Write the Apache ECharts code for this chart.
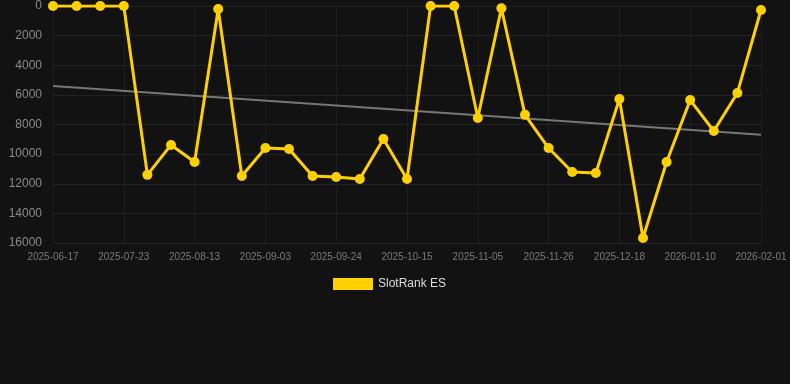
<!DOCTYPE html>
<html><head><meta charset="utf-8">
<script src="https://cdn.jsdelivr.net/npm/echarts@6/dist/echarts.min.js"></script>
<style>html,body{margin:0;padding:0;background:#121212;}#c{width:790px;height:384px;}</style>
</head><body><div id="c"></div>
<script>
const categories = ['2025-06-17','2025-07-02','2025-07-09','2025-07-23','2025-07-30','2025-08-06','2025-08-13','2025-08-20','2025-08-27','2025-09-03','2025-09-10','2025-09-17','2025-09-24','2025-10-01','2025-10-08','2025-10-15','2025-10-22','2025-10-29','2025-11-05','2025-11-12','2025-11-19','2025-11-26','2025-12-03','2025-12-10','2025-12-18','2025-12-25','2026-01-03','2026-01-10','2026-01-17','2026-01-24','2026-02-01'];
const rankValues = [0,0,0,0,11400,9380,10530,200,11480,9590,9650,11480,11550,11680,8980,11680,0,0,7560,150,7350,9590,11210,11280,6280,15660,10530,6350,8440,5870,270];
const trendStart = 5400;
const trendEnd = 8700;
const trendValues = categories.map((c,i)=> i===0 ? trendStart : (i===categories.length-1 ? trendEnd : null));
const chart = echarts.init(document.getElementById('c'));
chart.setOption({
  backgroundColor:'#121212',
  animation:false,
  grid:{left:53,right:29,top:6,bottom:141,containLabel:false},
  legend:{data:[{name:'SlotRank ES',icon:'rect'}],top:273,left:328,itemWidth:40,itemHeight:12,itemGap:10,textStyle:{color:'#dddddd',fontSize:12,fontFamily:'Liberation Sans, Arial, sans-serif'}},
  xAxis:{type:'category',data:categories,boundaryGap:false,
    axisLine:{show:false},axisTick:{show:false},
    axisLabel:{interval:2,color:'#7a7a7a',fontSize:10,margin:9,fontFamily:'Liberation Sans, Arial, sans-serif'},
    splitLine:{show:true,interval:2,lineStyle:{color:'#1e1e1e',width:1}}},
  yAxis:{type:'value',inverse:true,min:0,max:16000,interval:2000,
    axisLine:{show:false},axisTick:{show:false},
    axisLabel:{color:'#8a8a8a',fontSize:12,margin:11,fontFamily:'Liberation Sans, Arial, sans-serif',formatter:v=>String(v)},
    splitLine:{lineStyle:{color:'#222222',width:1}}},
  series:[
    {name:'SlotRank ES',type:'line',data:rankValues,symbol:'circle',symbolSize:10,
      lineStyle:{color:'#FFD000',width:3},itemStyle:{color:'#FFD000'},z:3},
    {name:'trend',type:'line',data:trendValues,connectNulls:true,symbol:'none',
      lineStyle:{color:'#777777',width:2},z:2}
  ]
});
</script></body></html>
